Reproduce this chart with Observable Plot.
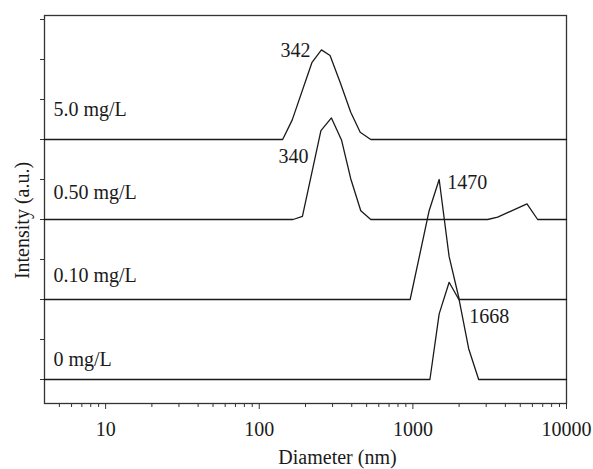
<!DOCTYPE html>
<html>
<head>
<meta charset="utf-8">
<script src="https://cdn.jsdelivr.net/npm/d3@7"></script>
<script src="https://cdn.jsdelivr.net/npm/@observablehq/plot@0.6"></script>
<style>
  html, body { margin: 0; padding: 0; background: #fff; }
  #chart { width: 593px; height: 469px; }
</style>
</head>
<body>
<div id="chart"></div>
<script>
// Series (top to bottom), vertical stacking offset in intensity units
const seriesNames = ["5.0 mg/L", "0.50 mg/L", "0.10 mg/L", "0 mg/L"];
const seriesOffsets = [60, 40, 20, 0];
const labelLift = [7.5, 6.75, 6, 5];

// Diameter (nm) and intensity (a.u.) for each series
const diam5   = [4, 142, 164, 220, 254, 289, 336, 394, 454, 532, 10000];
const int5    = [0, 0, 4.9, 19.2, 22.4, 21.0, 14.3, 6.8, 1.8, 0, 0];
const diam050 = [4, 166, 191, 252, 295, 343, 394, 458, 532, 3070, 3565, 5530, 6490, 10000];
const int050  = [0, 0, 0.8, 22.2, 25.4, 19.9, 10.2, 2.2, 0, 0, 0.6, 3.9, 0, 0];
const diam010 = [4, 960, 1276, 1483, 1722, 2004, 10000];
const int010  = [0, 0, 22.2, 30.0, 10.7, 0, 0];
const diam0   = [4, 1291, 1483, 1722, 2004, 2308, 2681, 10000];
const int0    = [0, 0, 16.4, 24.3, 19.8, 7.7, 0, 0];

// Peak annotations (one per series, same order)
const peakLabels = ["342", "340", "1470", "1668"];

// Axis ticks
const majorTicks = [10, 100, 1000, 10000];
const minorTicks = [5, 6, 7, 8, 9, 20, 30, 40, 50, 60, 70, 80, 90,
  200, 300, 400, 500, 600, 700, 800, 900,
  2000, 3000, 4000, 5000, 6000, 7000, 8000, 9000];
const yTicks = [0, 10, 20, 30, 40, 50, 60, 70, 80, 90];

const diams = [diam5, diam050, diam010, diam0];
const ints = [int5, int050, int010, int0];

const rows = [];
const peaks = [];
seriesNames.forEach((name, i) => {
  let best = null;
  diams[i].forEach((d, j) => {
    const r = {name, d, v: ints[i][j], y: ints[i][j] + seriesOffsets[i]};
    rows.push(r);
    if (!best || r.v > best.v) best = r;
  });
  peaks.push({...best, label: peakLabels[i]});
});
const seriesLabels = seriesNames.map((name, i) => ({name, y: seriesOffsets[i] + labelLift[i]}));

// per-annotation placement (dx, dy in pixels, anchor)
const peakPlacement = [
  {dx: -11, dy: 1, anchor: "end"},
  {dx: -23, dy: 39, anchor: "end"},
  {dx: 8, dy: 3, anchor: "start"},
  {dx: 20, dy: 34, anchor: "start"}
];

const ink = "#1a1a1a";

const chart = Plot.plot({
  width: 593,
  height: 469,
  marginLeft: 44,
  marginRight: 27,
  marginTop: 15,
  marginBottom: 66,
  style: {fontFamily: "'Liberation Serif', 'DejaVu Serif', serif", fontSize: "20px", background: "#fff", color: ink},
  x: {type: "log", domain: [4, 10000]},
  y: {domain: [-6, 91]},
  marks: [
    Plot.frame({stroke: "#333", strokeWidth: 1.3}),
    Plot.axisY(yTicks, {tickSize: 4, tickFormat: () => "", label: null, stroke: "#333"}),
    Plot.axisX(majorTicks, {tickSize: 6, tickPadding: 12, tickFormat: d => String(d), label: null, stroke: "#333"}),
    Plot.axisX(minorTicks, {tickSize: 4, tickFormat: () => "", label: null, stroke: "#333"}),
    Plot.line(rows, {x: "d", y: "y", z: "name", stroke: ink, strokeWidth: 1.3}),
    Plot.text(seriesLabels, {frameAnchor: "left", y: "y", text: "name", textAnchor: "start", dx: 9, fill: ink}),
    ...peaks.map((p, i) => Plot.text([p], {
      x: "d", y: "y", text: "label",
      textAnchor: peakPlacement[i].anchor, dx: peakPlacement[i].dx, dy: peakPlacement[i].dy, fill: ink
    })),
    Plot.text(["Diameter (nm)"], {frameAnchor: "bottom", textAnchor: "middle", lineAnchor: "middle", dx: 32, dy: 54, fill: ink}),
    Plot.text(["Intensity (a.u.)"], {frameAnchor: "left", textAnchor: "middle", lineAnchor: "middle", rotate: -90, dx: -22, dy: 11, fill: ink})
  ]
});
document.getElementById("chart").appendChild(chart);
</script>
</body>
</html>
